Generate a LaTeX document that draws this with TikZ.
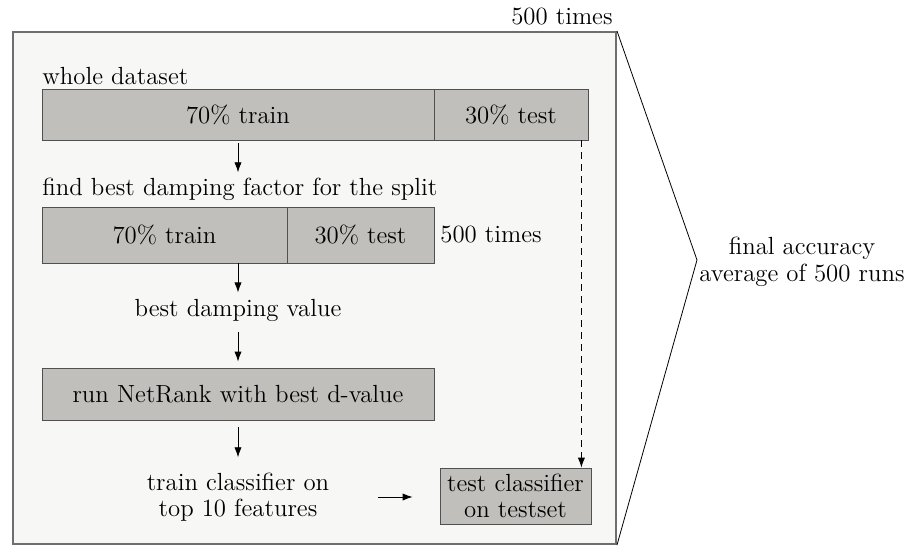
\documentclass[tikz,border=0pt]{standalone}
\usetikzlibrary{calc, arrows.meta}
\definecolor{framefill}{RGB}{247,247,245}
\definecolor{framedraw}{RGB}{110,110,110}
\definecolor{barfill}{RGB}{192,191,188}
\definecolor{bardraw}{RGB}{80,80,80}

\begin{document}
\begin{tikzpicture}[x=0.5pt,y=-0.5pt,>={Latex[length=5pt,width=3.6pt]},
  every node/.style={font=\fontsize{12.4}{13.2}\selectfont, inner sep=0pt},
  bar/.style={draw=bardraw, fill=barfill, rectangle, minimum height=25.5pt},
  box/.style={draw=bardraw, fill=barfill, rectangle, align=center},
  lbl/.style={align=center}]
\useasboundingbox (0,0) rectangle (912,546);
\node[draw=framedraw, fill=framefill, line width=1pt, minimum width=301.5pt, minimum height=256pt] (frame) at (314.5,288) {};
\node[anchor=south east] (reps) at ([xshift=-2pt,yshift=3pt]frame.north east) {500 times};
\coordinate (tip) at (697,260);
\draw (frame.north east) -- (tip) -- (frame.south east);
\node[lbl] (final) at (802,262) {final accuracy\\average of 500 runs};
\node[anchor=south west] (whole) at (42,85) {whole dataset};
\node[bar, minimum width=196pt] (train1) at (238,114.5) {70\% train};
\node[bar, minimum width=77pt] (test1) at (511,114.5) {30\% test};
\node[anchor=west] (find) at (42,189) {find best damping factor for the split};
\node[bar, minimum width=122.5pt, minimum height=28pt] (train2) at (164.5,235) {70\% train};
\node[bar, minimum width=73.5pt, minimum height=28pt] (test2) at (360.5,235) {30\% test};
\node[anchor=west] (inner) at (440,235) {500 times};
\node (bestd) at (238,310) {best damping value};
\node[box, minimum width=196pt, minimum height=26pt] (run) at (238,394) {run NetRank with best d-value};
\node[lbl] (trainclf) at (238,497) {train classifier on\\top 10 features};
\node[box, minimum width=75.5pt, minimum height=28pt] (testclf) at (515.5,496) {test classifier\\on testset};
\draw[->] ([yshift=-1.5pt]train1.south) -- ([yshift=2.5pt]train1.south |- find.north);
\draw[->] (train2.south -| bestd.north) -- ([yshift=3pt]bestd.north);
\draw[->] ([yshift=-5pt]bestd.south) -- ([yshift=3pt]run.north);
\draw[->] ([yshift=-3.5pt]run.south) -- ([yshift=7.5pt]run.south |- trainclf.north);
\draw[->] ([xshift=24pt]trainclf.east) -- ([xshift=-13.5pt]testclf.west |- trainclf.east);
\draw[->, dash pattern=on 3.5pt off 2.5pt] ([xshift=-3.5pt]test1.south east) -- ([xshift=-3.5pt]test1.south east |- testclf.north);
\end{tikzpicture}
\end{document}
